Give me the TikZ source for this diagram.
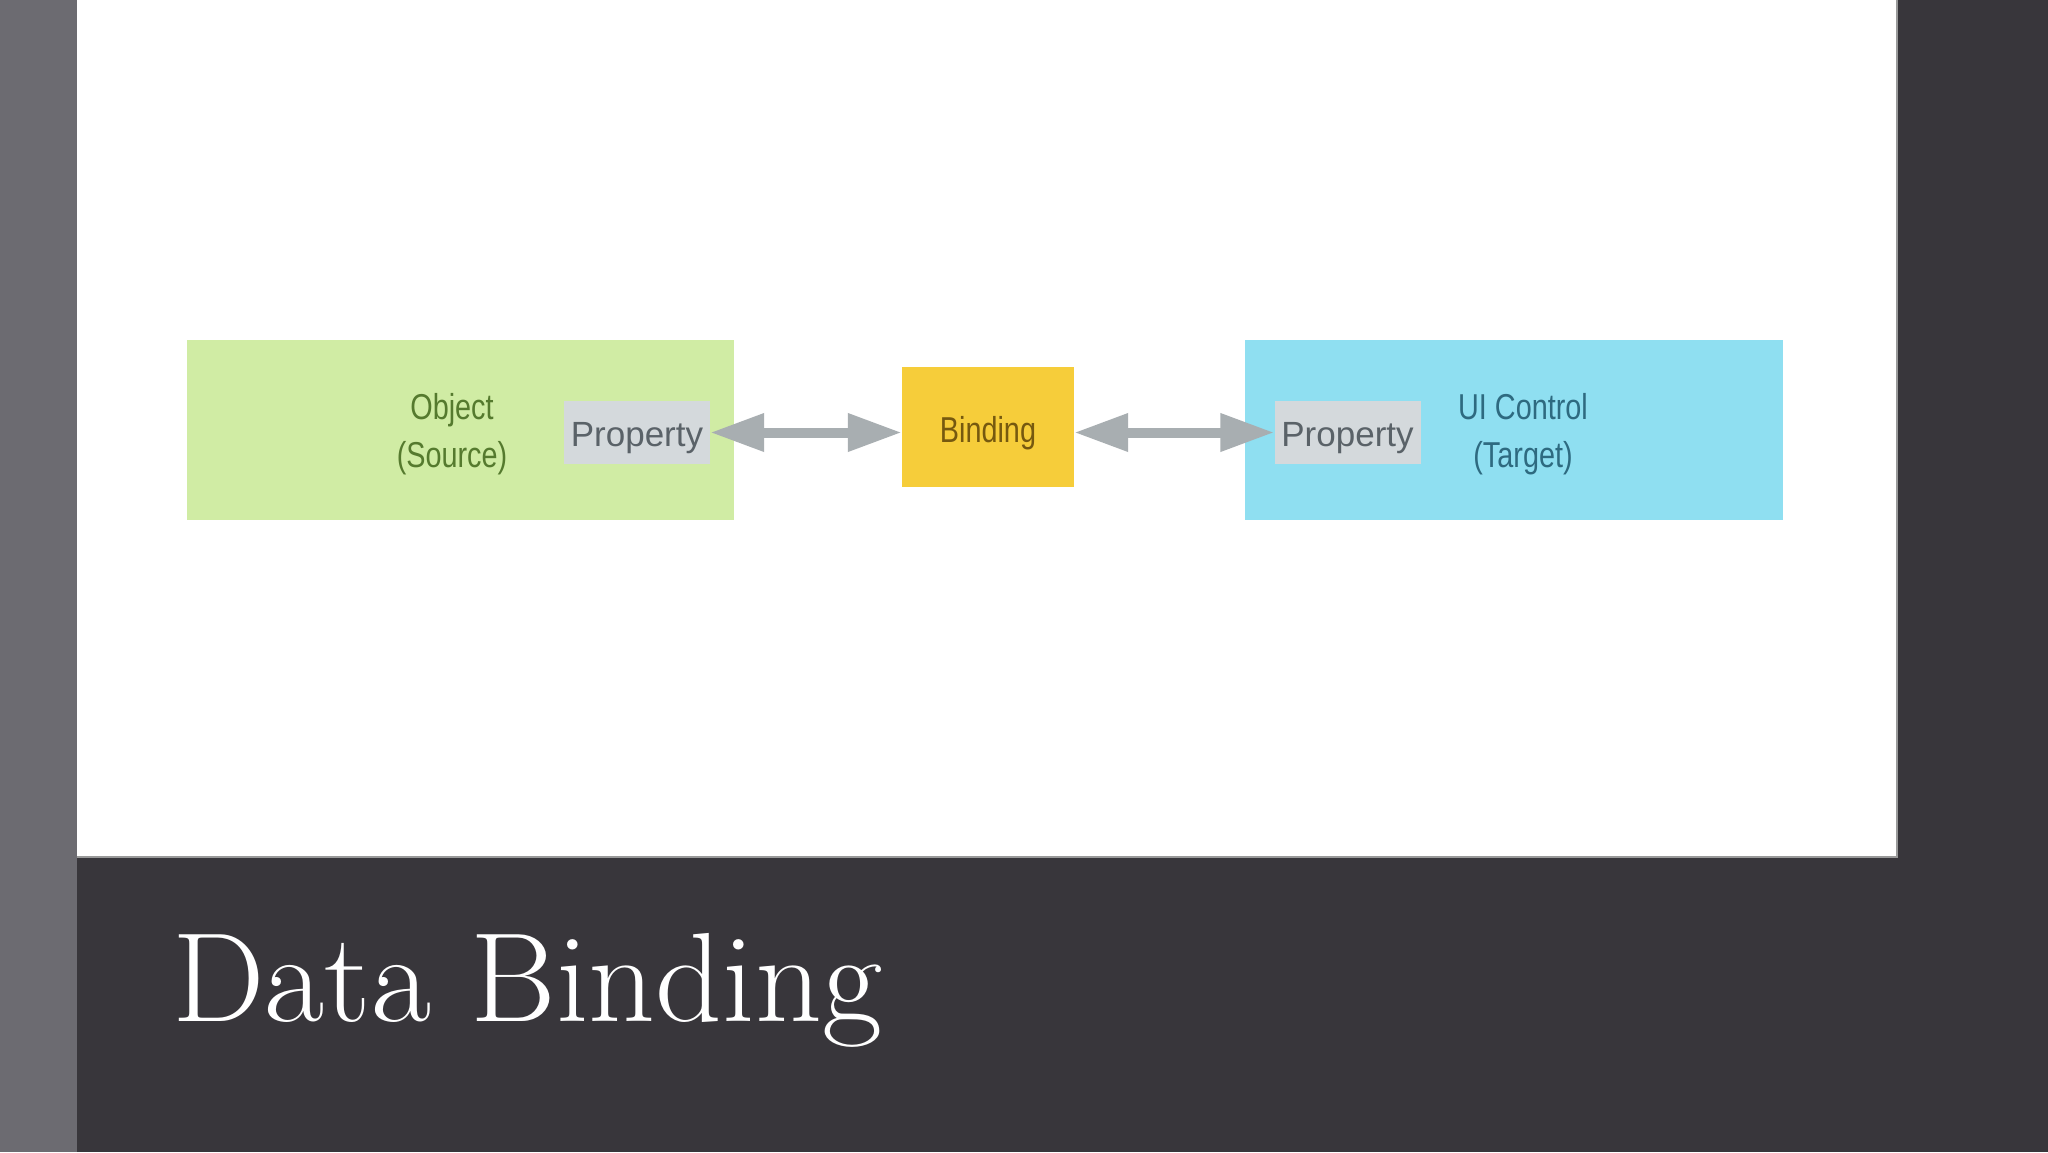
\documentclass[tikz,border=0pt]{standalone}
\usepackage{fontspec}
\usetikzlibrary{arrows.meta}
\newfontfamily\diagfont{Liberation Sans}
\newfontfamily\narrowfont[FakeStretch=0.8]{Liberation Sans}
\definecolor{strip}{HTML}{6C6B71}
\definecolor{darkbg}{HTML}{38363B}
\definecolor{greenfill}{HTML}{D0ECA4}
\definecolor{greentext}{HTML}{557A2E}
\definecolor{bluefill}{HTML}{8FDFF1}
\definecolor{bluetext}{HTML}{2E6A80}
\definecolor{yellowfill}{HTML}{F6CD3A}
\definecolor{yellowtext}{HTML}{76590F}
\definecolor{propfill}{HTML}{D4D9DC}
\definecolor{proptext}{HTML}{5A6268}
\definecolor{arrowgrey}{HTML}{A8AEB1}
\tikzset{
  bigbox/.style={rectangle, inner sep=0pt, minimum width=#1, minimum height=180pt},
  propbox/.style={rectangle, fill=propfill, inner sep=0pt, minimum width=146pt, minimum height=63pt,
    text height=35pt, text depth=7.5pt,
    font=\diagfont\fontsize{35}{42}\selectfont, text=proptext},
  labeltext/.style={font=\narrowfont\fontsize{36}{48}\selectfont, align=center, inner sep=0pt},
  dblarrow/.style={draw=arrowgrey, line width=10pt,
    {Triangle[length=54pt, width=36pt]}-{Triangle[length=54pt, width=36pt]}}
}
\begin{document}
\begin{tikzpicture}[x=1pt, y=-1pt]
\useasboundingbox (0,0) rectangle (2048,1152);
% background
\fill[darkbg] (0,0) rectangle (2048,1152);
\fill[strip] (0,0) rectangle (77,1152);
\fill[white] (77,0) rectangle (1897,857);
\draw[color=black!40, line width=1.2pt] (77,857) -- (1897,857) -- (1897,0);
% boxes
\node[bigbox=547pt, fill=greenfill] (src) at (460.5,430) {};
\node[labeltext, text=greentext] (srclabel) at (452,434) {Object\\(Source)};
\node[propbox] (propL) at (637,432.5) {Property};
\node[rectangle, fill=yellowfill, inner sep=0pt, minimum width=172pt, minimum height=120pt,
  text height=38pt, text depth=7.5pt,
  font=\narrowfont\fontsize{36}{48}\selectfont, text=yellowtext] (bind) at (988,427) {Binding};
\node[bigbox=538pt, fill=bluefill] (tgt) at (1514,430) {};
\node[labeltext, text=bluetext] (tgtlabel) at (1523,434) {UI Control\\(Target)};
\node[propbox] (propR) at (1347.5,432.5) {Property};
% arrows
\draw[dblarrow] (propL.east) -- (propL.east -| bind.west);
\draw[dblarrow] (propR.west -| bind.east) -- (propR.west);
% title
\node[anchor=base west, inner sep=0pt, text=white, font=\fontsize{127}{140}\selectfont] (title) at (172,1021)
  {\scalebox{1.03}[1]{Data Binding}};
\end{tikzpicture}
\end{document}
